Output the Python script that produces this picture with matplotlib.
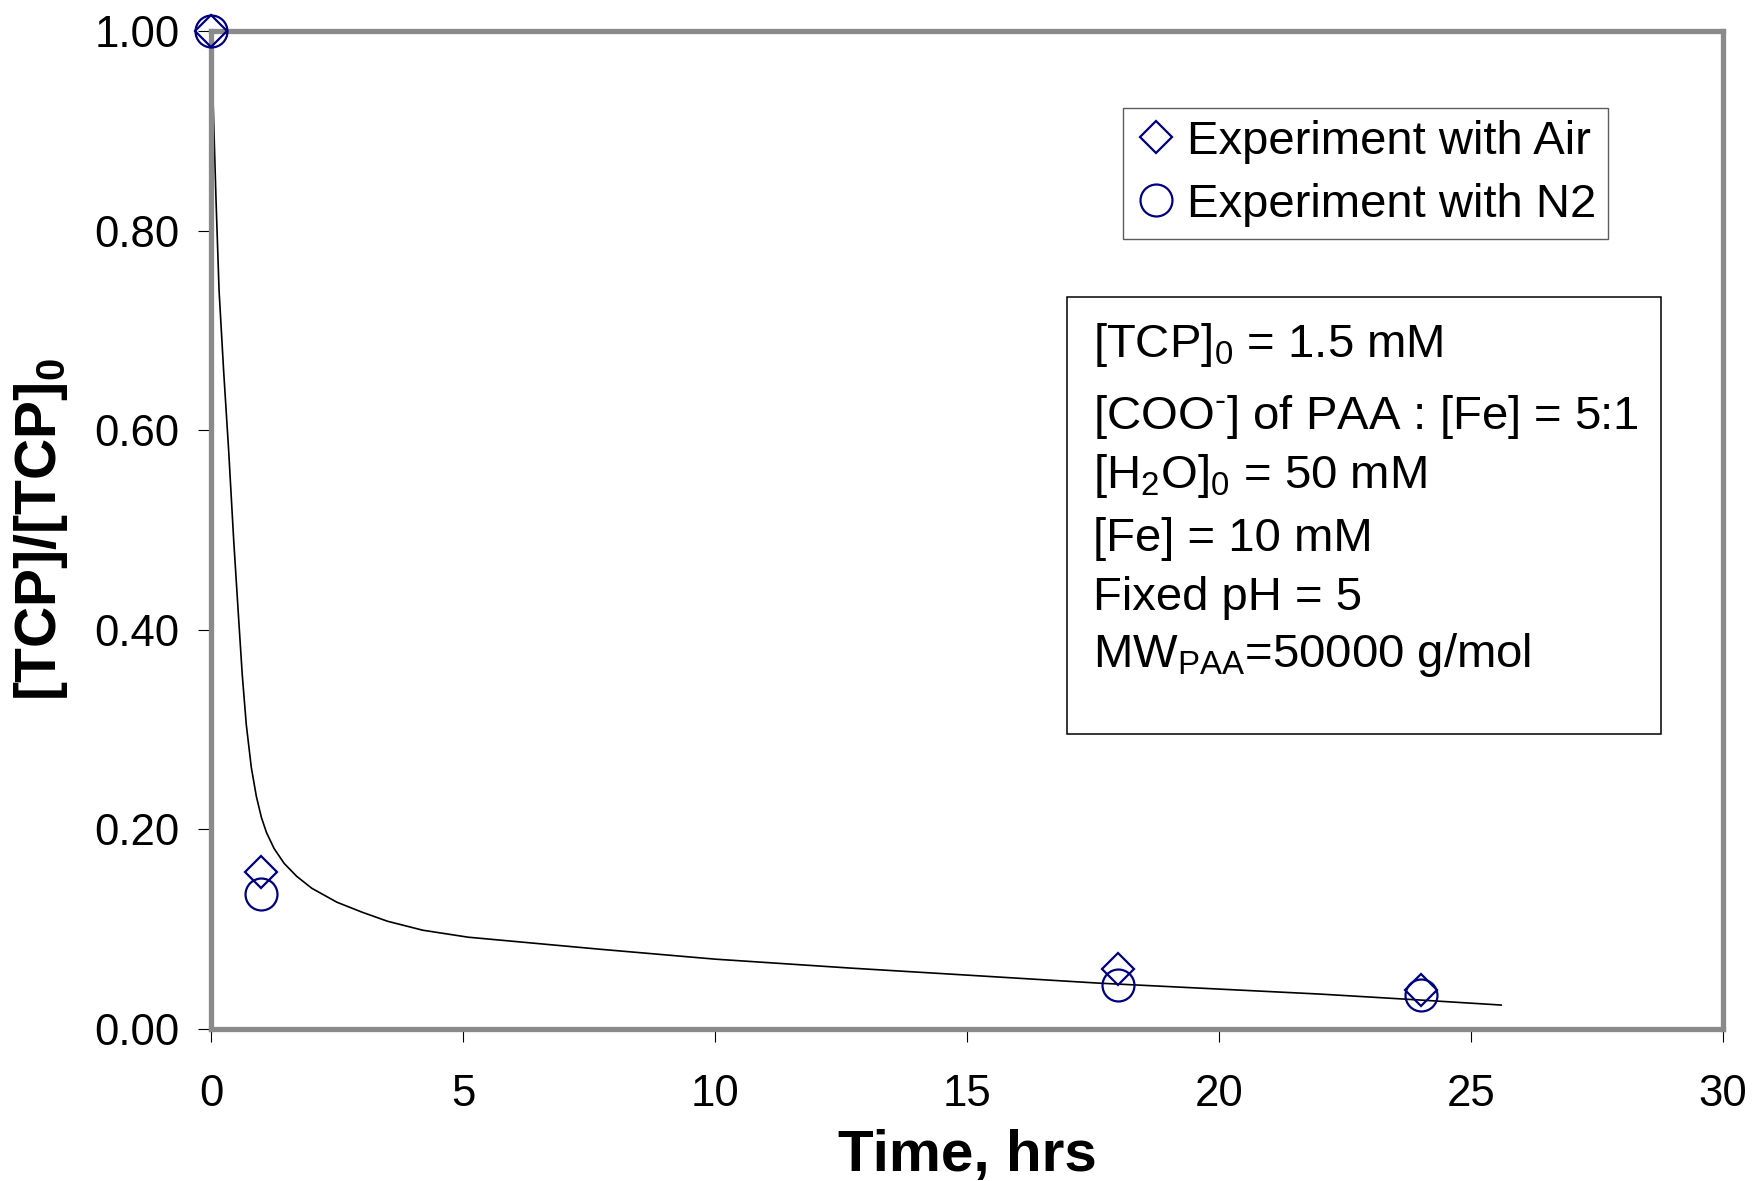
import matplotlib
matplotlib.use("Agg")
import matplotlib.pyplot as plt
from matplotlib.patches import Rectangle

plt.rcParams['font.family'] = ['Liberation Sans', 'DejaVu Sans']
plt.rcParams['mathtext.fontset'] = 'custom'
plt.rcParams['mathtext.rm'] = 'Liberation Sans'
plt.rcParams['mathtext.bf'] = 'Liberation Sans:bold'
plt.rcParams['mathtext.default'] = 'rm'

# measured points
time_pts = [0, 1, 18, 24]
air = [1.0, 0.157, 0.060, 0.039]
n2 = [1.0, 0.135, 0.044, 0.034]

# model curve
curve_t = [0, 0.05, 0.1, 0.16, 0.25, 0.35, 0.45, 0.55, 0.62, 0.7, 0.8, 0.9,
           1.0, 1.1, 1.25, 1.45, 1.7, 2.0, 2.5, 3.0, 3.5, 4.2, 5.1, 6.4, 7.7,
           10.0, 12.7, 15.0, 17.6, 20.0, 22.0, 24.0, 25.6]
curve_c = [1.0, 0.915, 0.83, 0.74, 0.66, 0.58, 0.49, 0.41, 0.355, 0.305,
           0.262, 0.233, 0.212, 0.197, 0.181, 0.166, 0.153, 0.141, 0.127,
           0.117, 0.108, 0.099, 0.092, 0.086, 0.080, 0.070, 0.061, 0.054,
           0.046, 0.040, 0.035, 0.029, 0.024]

x_ticks = [0, 5, 10, 15, 20, 25, 30]
y_ticks = [0.0, 0.2, 0.4, 0.6, 0.8, 1.0]

conditions = [r"[TCP]$_0$ = 1.5 mM",
              r"[COO$^{\text{-}}$] of PAA : [Fe] = 5:1",
              r"[H$_2$O]$_0$ = 50 mM",
              "[Fe] = 10 mM",
              "Fixed pH = 5",
              r"MW$_{PAA}$=50000 g/mol"]

W, H = 1752, 1181
fig = plt.figure(figsize=(W / 100, H / 100), dpi=100)
ax = fig.add_axes([211 / W, 1 - 1029 / H, 1512 / W, 998 / H])

navy = '#000080'
ax.plot(curve_t, curve_c, color='black', lw=1.2, zorder=2)
ax.plot(time_pts, air, 'D', ms=16.5, mfc='none', mec=navy, mew=1.6,
        label='Experiment with Air', clip_on=False, zorder=3)
ax.plot(time_pts, n2, 'o', ms=23, mfc='none', mec=navy, mew=1.6,
        label='Experiment with N2', clip_on=False, zorder=3)

ax.set_xlim(0, 30)
ax.set_ylim(0, 1.0)
ax.set_xticks(x_ticks)
ax.set_yticks(y_ticks)
ax.set_yticklabels(['%.2f' % v for v in y_ticks])
ax.tick_params(direction='out', length=9.5, width=0.8, color='black',
               labelsize=31.5)
ax.tick_params(axis='x', pad=23)
ax.tick_params(axis='y', pad=13)

for s in ax.spines.values():
    s.set_color('#8a8a8a')
    s.set_linewidth(3.8)
ax.axhline(0, color='#404040', lw=1, clip_on=False, zorder=2.5)
ax.axvline(0, color='#404040', lw=1, clip_on=False, zorder=2.5)

ax.set_xlabel('Time, hrs', fontsize=42, fontweight='bold', va='top')
ax.xaxis.set_label_coords(0.5, -0.100)
ax.set_ylabel(r'[TCP]/[TCP]$_\mathbf{0}$', fontsize=41, fontweight='bold')
ax.yaxis.set_label_coords(-0.093, 0.5)

leg = ax.legend(loc='upper left', bbox_to_anchor=(1123 / W, 1 - 108 / H),
                bbox_transform=fig.transFigure, fontsize=34, frameon=True,
                fancybox=False, borderpad=0.25, labelspacing=0.4,
                handlelength=0.9, handletextpad=0.2, borderaxespad=0)
leg.get_frame().set_edgecolor('#333333')
leg.get_frame().set_linewidth(1.0)

# conditions box
fig.add_artist(Rectangle((1067 / W, 1 - 734 / H), 594 / W, 437 / H,
                         transform=fig.transFigure, fill=False,
                         edgecolor='black', lw=1.1))
baselines = [357, 429, 488, 551, 610, 667]
for txt, b in zip(conditions, baselines):
    fig.text(1093 / W, 1 - b / H, txt, fontsize=34, va='baseline', ha='left')

fig.savefig('out.png', dpi=100)
